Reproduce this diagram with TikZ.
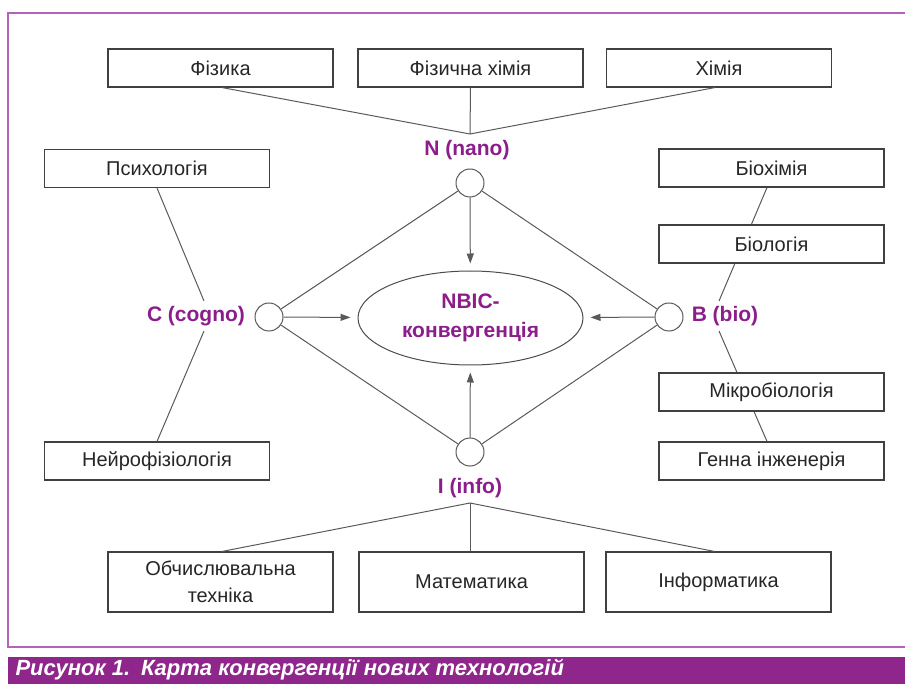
\documentclass[tikz,border=0pt]{standalone}
\usepackage{fontspec}
\setmainfont{Liberation Sans}
\usetikzlibrary{arrows.meta,shapes.geometric,backgrounds}
\definecolor{lila}{RGB}{140,30,140}
\definecolor{lilaRand}{RGB}{182,98,188}
\definecolor{lilaBalken}{RGB}{142,38,140}
\definecolor{linie}{RGB}{90,90,90}
\tikzstyle{fach} = [draw=black!75,fill=white,line width=1.1pt,minimum width=225pt,minimum height=38pt,inner sep=0pt,text=black!85,font=\fontsize{20}{23}\selectfont,align=center]
\tikzstyle{knoten} = [circle,draw=black!65,fill=white,line width=1pt,minimum size=28pt,inner sep=0pt]
\tikzstyle{kennung} = [text=lila,font=\bfseries\fontsize{21}{23}\selectfont,inner sep=1pt]
\tikzstyle{verbindung} = [draw=linie,line width=1pt]
\tikzstyle{pfeil} = [verbindung,-{Triangle[length=10pt,width=7pt]},shorten >=7pt]

\begin{document}
\begin{tikzpicture}[x=1pt,y=-1pt]
\useasboundingbox (0,0) rectangle (905,684);
% Rahmen und Bildunterschrift
\draw[lilaRand,line width=2pt] (906,13) -- (8,13) -- (8,647) -- (906,647);
\fill[lilaBalken] (8,657) rectangle (906,685);
\node[anchor=west,text=white,font=\bfseries\itshape\fontsize{22}{24}\selectfont] (titel) at (12,670) {Рисунок 1.\hspace{0.5em}Карта конвергенції нових технологій};
% Mitte
\node[ellipse,draw=black!70,line width=1pt,minimum width=225pt,minimum height=94pt,inner sep=0pt,text=lila,font=\bfseries\fontsize{21}{29}\selectfont,align=center] (konv) at (470.5,318) {NBIC-\\конвергенція};
\node[knoten] (n) at (470,183) {};
\node[knoten] (c) at (269,317) {};
\node[knoten] (b) at (669,317) {};
\node[knoten] (i) at (470,452) {};
\node[kennung] (nlabel) at (467,150) {N (nano)};
\node[kennung] (clabel) at (196,316) {C (cogno)};
\node[kennung] (blabel) at (725,316) {B (bio)};
\node[kennung] (ilabel) at (470,488) {I (info)};
\coordinate (nknick) at (470,134);
\coordinate (iknick) at (470,503);
% Faecher
\node[fach] (fiz) at (220.5,68) {Фізика};
\node[fach] (fizchem) at (470.5,68) {Фізична хімія};
\node[fach] (chem) at (719,68) {Хімія};
\node[fach] (psy) at (157,168.5) {Психологія};
\node[fach] (neuro) at (157,461) {Нейрофізіологія};
\node[fach] (bioch) at (771.5,168) {Біохімія};
\node[fach] (biol) at (771.5,244) {Біологія};
\node[fach] (mikro) at (771.5,392) {Мікробіологія};
\node[fach] (gen) at (771.5,461) {Генна інженерія};
\node[fach,minimum height=60pt,font=\fontsize{20}{27}\selectfont] (rech) at (220.5,582) {Обчислювальна\\техніка};
\node[fach,minimum height=60pt] (mat) at (471.5,582) {Математика};
\node[fach,minimum height=60pt] (inf) at (718.5,582) {Інформатика};
% Linien
\draw[verbindung] ([xshift=1.5pt]fiz.south) -- (nknick) -- ([xshift=-4pt]chem.south);
\draw[verbindung] (fizchem.south) -- (nknick);
\draw[verbindung] ([xshift=1.5pt]rech.north) -- (iknick) -- ([xshift=-4pt]inf.north);
\draw[verbindung] ([xshift=-1.5pt]mat.north) -- (iknick);
\draw[verbindung] (n) -- (c) -- (i) -- (b) -- (n);
\draw[pfeil] (n) -- (konv);
\draw[pfeil] (c) -- (konv);
\draw[pfeil] (b) -- (konv);
\draw[pfeil] (i) -- (konv);
\draw[verbindung] (psy.south) -- ([xshift=8pt,yshift=4pt]clabel.north);
\draw[verbindung] ([xshift=8pt,yshift=-4pt]clabel.south) -- (neuro.north);
\begin{scope}[on background layer]
\draw[verbindung] ([xshift=-4.5pt]bioch.south) -- ([xshift=-6pt,yshift=4pt]blabel.north);
\draw[verbindung] ([xshift=-6pt,yshift=-4pt]blabel.south) -- ([xshift=-4.5pt]gen.north);
\end{scope}
\end{tikzpicture}
\end{document}
